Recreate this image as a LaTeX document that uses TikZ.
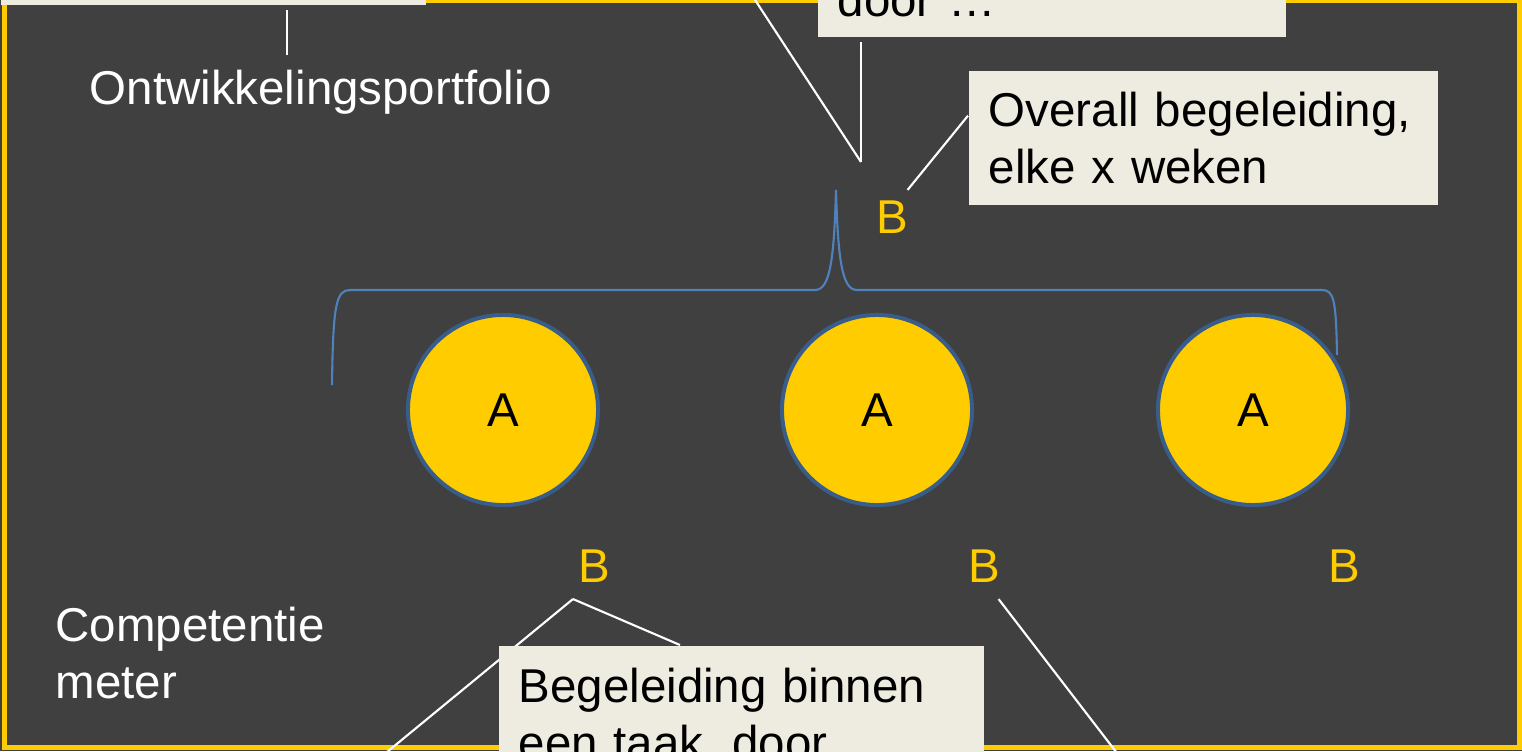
\documentclass[tikz,border=0pt]{standalone}
\usepackage{fontspec}
\setmainfont{Liberation Sans}
\usetikzlibrary{backgrounds,calc}
\definecolor{slidegray}{HTML}{404040}
\definecolor{slideyellow}{HTML}{FFCC00}
\definecolor{notebeige}{HTML}{EEECE1}
\definecolor{braceblue}{HTML}{4F81BD}
\definecolor{ringblue}{HTML}{385D8A}

\begin{document}
\begin{tikzpicture}[x=0.01cm, y=-0.01cm,
    every node/.style={font=\fontsize{13.5}{16.2}\selectfont},
    note/.style={fill=notebeige, text=black, inner xsep=0.2cm, align=left},
    pointer/.style={draw=white, line width=0.6pt},
    bmark/.style={text=slideyellow, inner sep=0pt},
    task/.style={circle, fill=slideyellow, draw=ringblue, line width=0.04cm, minimum size=1.9cm, inner sep=0pt}]

    \useasboundingbox (0,0) rectangle (1522,751);
    \clip (0,0) rectangle (1522,751);

    % callout boxes and labels
    \node[note, anchor=south west, minimum width=4.25cm, minimum height=0.4cm, inner sep=0pt] (pfbox) at (0,6) {};
    \node[text=white, anchor=base west, inner sep=0pt] (pflabel) at (89,104) {Ontwikkelingsportfolio};
    \node[note, anchor=south west, text width=4.28cm, inner ysep=0.2cm] (doorbox) at (817,38) {door …};
    \node[note, anchor=north west, text width=4.29cm, inner ysep=0.21cm] (overallbox) at (968,70) {Overall begeleiding,\\elke x weken};
    \node[bmark] (btop) at (892,217) {B};

    \foreach \n/\x in {1/503, 2/877, 3/1253}
    \node[task] (a\n) at (\x,410) {A};
    \foreach \n/\x in {1/594, 2/984, 3/1344}
    \node[bmark] (b\n) at (\x,566) {B};

    \node[text=white, anchor=north west, align=left, inner sep=0pt] (cmlabel) at (55,606) {Competentie\\meter};
    \node[note, anchor=north west, text width=4.45cm, inner ysep=0.22cm] (taakbox) at (498,645) {Begeleiding binnen\\een taak, door};

    % brace over the three tasks
    \draw[braceblue, line width=0.6pt] (332,385) .. controls (333,305) and (336,290) .. (350,290) -- (815,290)
        .. controls (830,290) and (834,260) .. (836,190) .. controls (838,260) and (842,290) .. (857,290)
        -- (1322,290) .. controls (1334,290) and (1336,300) .. (1337,355);

    \coordinate (pfpin) at (287,55);
    \coordinate (btoppin) at ($(btop.north west)+(-14.5,-38)$);
    \coordinate (upfree) at (742,-20);
    \coordinate (b1pin) at ($(b1.south west)+(-4.5,16)$);
    \coordinate (b2pin) at ($(b2.south east)+(-2,16)$);
    \coordinate (downfree1) at (370,766);
    \coordinate (downfree2) at (1130,770);

    \begin{scope}[on background layer]
        \clip (0,0) rectangle (1522,751);
        \fill[slidegray] (0,0) rectangle (1522,751);
        \draw[slideyellow, line width=0.05cm] (4.5,0) rectangle (1519.5,747);
        % pointers
        \draw[pointer] ($(pfbox.south -| pfpin)+(0,4)$) -- (pfpin);
        \draw[pointer] ($(doorbox.south -| btoppin)+(0,4)$) -- (btoppin);
        \draw[pointer] (upfree) -- (btoppin);
        \draw[pointer] ($(overallbox.west)+(0,-22)$) -- ($(btop.north east)+(-1,-10)$);
        \draw[pointer] (b1pin) -- ($(taakbox.north west)+(182,0)$);
        \draw[pointer] (b1pin) -- (downfree1);
        \draw[pointer] (b2pin) -- (downfree2);
    \end{scope}
\end{tikzpicture}
\end{document}
